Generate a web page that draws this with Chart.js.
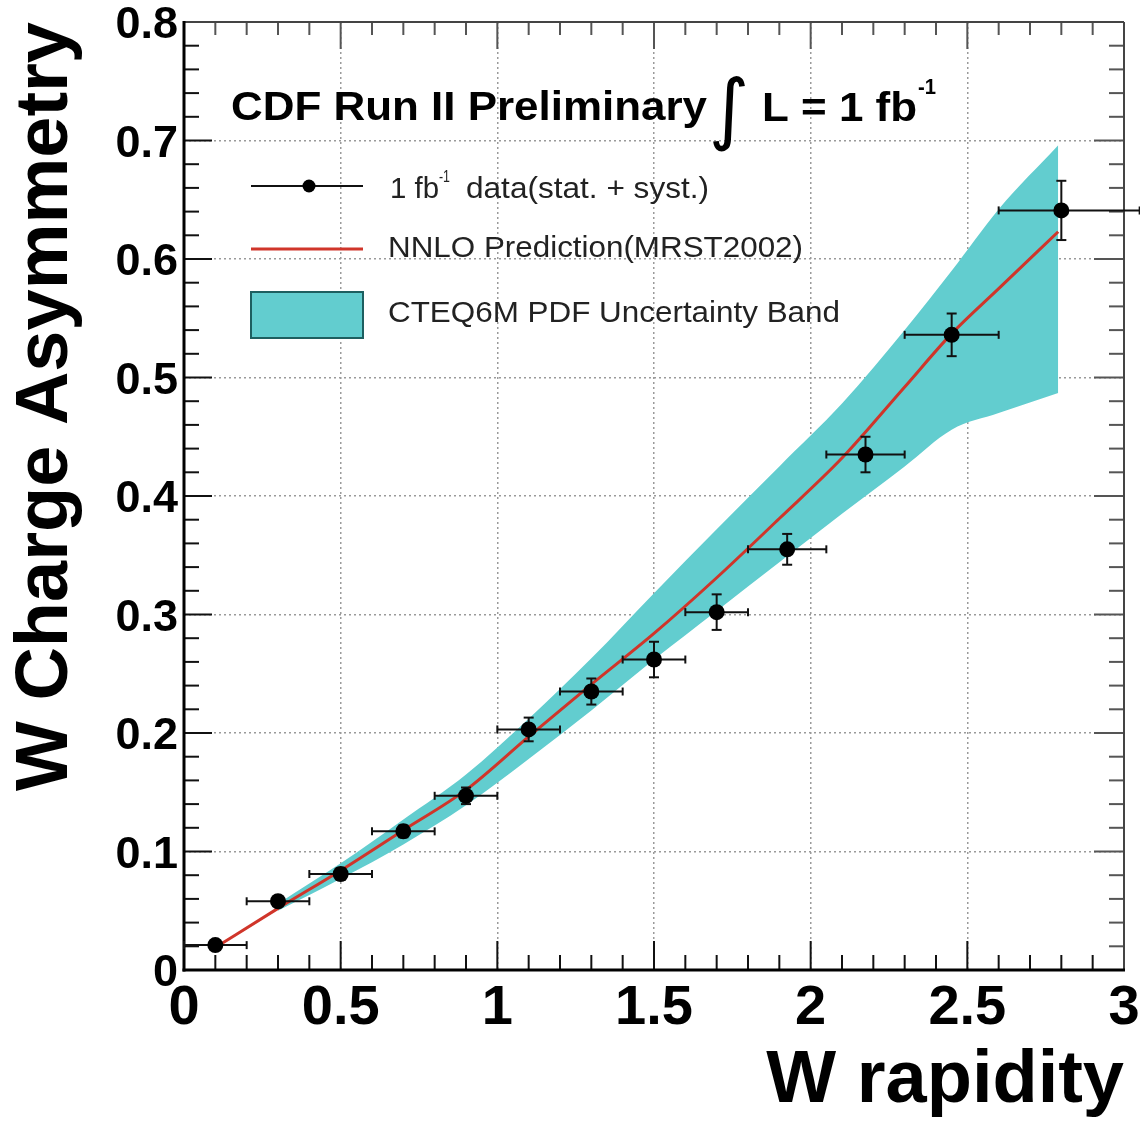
<!DOCTYPE html>
<html>
<head>
<meta charset="utf-8">
<title>W Charge Asymmetry</title>
<script src="https://cdn.jsdelivr.net/npm/chart.js@4.4.1/dist/chart.umd.min.js"></script>
<style>
  html,body{margin:0;padding:0;background:#fff;}
  #wrap{width:1140px;height:1121px;}
</style>
</head>
<body>
<div id="wrap"><canvas id="asym" width="1140" height="1121"></canvas></div>
<script>
// ===== Data =====
const xCenters = [0.1, 0.3, 0.5, 0.7, 0.9, 1.1, 1.3, 1.5, 1.7, 1.925, 2.175, 2.45, 2.8];
const asym     = [0.021, 0.058, 0.081, 0.117, 0.147, 0.203, 0.235, 0.262, 0.302, 0.355, 0.435, 0.536, 0.641];
const asymErr  = [0.004, 0.004, 0.005, 0.005, 0.007, 0.010, 0.011, 0.015, 0.015, 0.013, 0.015, 0.018, 0.025];
const binLow   = [0.0, 0.2, 0.4, 0.6, 0.8, 1.0, 1.2, 1.4, 1.6, 1.8, 2.05, 2.3, 2.6];
const binHigh  = [0.2, 0.4, 0.6, 0.8, 1.0, 1.2, 1.4, 1.6, 1.8, 2.05, 2.3, 2.6, 3.05];

// NNLO prediction (MRST2002)
const predX = [0.1, 0.3, 0.5, 0.7, 0.9, 1.1, 1.3, 1.5, 1.7, 1.9, 2.1, 2.3, 2.45, 2.6, 2.79];
const predY = [0.019, 0.052, 0.084, 0.118, 0.152, 0.197, 0.241, 0.284, 0.331, 0.381, 0.432, 0.492, 0.537, 0.575, 0.623];

// CTEQ6M PDF uncertainty band
const bandX  = [0.3, 0.5, 0.7, 0.9, 1.1, 1.3, 1.5, 1.7, 1.9, 2.1, 2.3, 2.45, 2.6, 2.79];
const bandHi = [0.056, 0.090, 0.127, 0.165, 0.212, 0.263, 0.318, 0.372, 0.425, 0.478, 0.540, 0.590, 0.642, 0.696];
const bandLo = [0.050, 0.077, 0.106, 0.139, 0.178, 0.219, 0.262, 0.303, 0.344, 0.385, 0.425, 0.456, 0.470, 0.487];

// axis ticks
const xTickVals   = [0, 0.5, 1, 1.5, 2, 2.5, 3];
const xTickLabels = ["0", "0.5", "1", "1.5", "2", "2.5", "3"];
const yTickVals   = [0, 0.1, 0.2, 0.3, 0.4, 0.5, 0.6, 0.7, 0.8];
const yTickLabels = ["0", "0.1", "0.2", "0.3", "0.4", "0.5", "0.6", "0.7", "0.8"];

const FONT = "'Liberation Sans', Arial, Helvetica, sans-serif";
const CYAN = "#62cdcf";
const RED = "#d0352a";

function pts(xs, ys){ return xs.map((x,i)=>({x, y:ys[i]})); }

function line(ctx, x0, y0, x1, y1){
  ctx.beginPath(); ctx.moveTo(x0,y0); ctx.lineTo(x1,y1); ctx.stroke();
}

// text squeezed/stretched to fit between x0 and x1
function fitText(ctx, s, x0, x1, base, font, color){
  ctx.save();
  ctx.font = font;
  ctx.fillStyle = color || "#000";
  ctx.textBaseline = "alphabetic";
  ctx.textAlign = "left";
  const w = ctx.measureText(s).width;
  ctx.translate(x0, base);
  ctx.scale((x1-x0)/w, 1);
  ctx.fillText(s, 0, 0);
  ctx.restore();
}

// ===== ROOT-like frame, ticks, error bars, legend =====
const rootStyle = {
  id: "rootStyle",
  beforeDatasetsDraw(chart){
    const {ctx, chartArea:a, scales:{x:xs, y:ys}} = chart;
    ctx.save();
    // ticks, pointing inward
    for(let k=0;k<=30;k++){
      const px = xs.getPixelForValue(k/10), major = k%5===0;
      ctx.strokeStyle = "#111"; ctx.lineWidth = 2;
      line(ctx, px, a.bottom, px, a.bottom-(major?29:15));
      ctx.strokeStyle = "#555";
      line(ctx, px, a.top, px, a.top+(major?27:13));
    }
    for(let k=0;k<=40;k++){
      const py = ys.getPixelForValue(k/50), major = k%5===0;
      ctx.strokeStyle = "#111"; ctx.lineWidth = 2;
      line(ctx, a.left, py, a.left+(major?28:15), py);
      ctx.strokeStyle = "#555";
      line(ctx, a.right, py, a.right-(major?30:15), py);
    }
    // frame
    ctx.strokeStyle = "#444"; ctx.lineWidth = 2;
    line(ctx, a.left, a.top, a.right, a.top);
    line(ctx, a.right, a.top, a.right, a.bottom);
    ctx.strokeStyle = "#000"; ctx.lineWidth = 3;
    line(ctx, a.left, a.top-1, a.left, a.bottom+1.5);
    line(ctx, a.left-1.5, a.bottom, a.right+1, a.bottom);
    ctx.restore();
  },
  beforeDatasetDraw(chart, args){
    if(args.index !== 0) return;
    const {ctx, scales:{x:xs, y:ys}} = chart;
    ctx.save();
    ctx.strokeStyle = "#111"; ctx.lineWidth = 2;
    xCenters.forEach((xc,i)=>{
      const px = xs.getPixelForValue(xc), py = ys.getPixelForValue(asym[i]);
      const x0 = xs.getPixelForValue(binLow[i]), x1 = xs.getPixelForValue(binHigh[i]);
      const y0 = ys.getPixelForValue(asym[i]-asymErr[i]), y1 = ys.getPixelForValue(asym[i]+asymErr[i]);
      line(ctx, x0, py, x1, py);
      line(ctx, px, y0, px, y1);
      line(ctx, x0, py-4, x0, py+4);
      line(ctx, x1, py-4, x1, py+4);
      line(ctx, px-5, y0, px+5, y0);
      line(ctx, px-5, y1, px+5, y1);
    });
    ctx.restore();
  },
  afterDraw(chart){
    const ctx = chart.ctx;
    // header
    fitText(ctx, "CDF Run II Preliminary", 231, 707, 120, "bold 40px "+FONT);
    ctx.save();
    ctx.font = "78px 'DejaVu Sans', sans-serif";
    ctx.fillStyle = "#000"; ctx.textAlign = "center"; ctx.textBaseline = "middle";
    ctx.fillText("\u222B", 729, 115);
    ctx.restore();
    fitText(ctx, "L = 1 fb", 762, 917, 121, "bold 40px "+FONT);
    fitText(ctx, "-1", 918, 936, 94, "bold 22px "+FONT);

    // legend: data
    ctx.save();
    ctx.strokeStyle = "#111"; ctx.lineWidth = 2;
    line(ctx, 251, 186, 363, 186);
    ctx.fillStyle = "#000";
    ctx.beginPath(); ctx.arc(309, 186, 6.5, 0, Math.PI*2); ctx.fill();
    // legend: prediction
    ctx.strokeStyle = RED; ctx.lineWidth = 3;
    line(ctx, 251, 249, 363, 249);
    // legend: band
    ctx.fillStyle = CYAN; ctx.fillRect(251, 292, 112, 46);
    ctx.strokeStyle = "#1d5f60"; ctx.lineWidth = 2;
    ctx.strokeRect(251, 292, 112, 46);
    ctx.restore();

    const lf = "29px "+FONT, col = "#222";
    fitText(ctx, "1 fb", 390, 439, 198, lf, col);
    fitText(ctx, "-1", 439, 450, 182, "17px "+FONT, col);
    fitText(ctx, "data(stat. + syst.)", 466, 709, 198, lf, col);
    fitText(ctx, "NNLO Prediction(MRST2002)", 388, 803, 257, lf, col);
    fitText(ctx, "CTEQ6M PDF Uncertainty Band", 388, 840, 322, lf, col);
  }
};

new Chart(document.getElementById("asym"), {
  type: "scatter",
  data: {
    datasets: [
      { label: "1 fb-1 data(stat. + syst.)", data: pts(xCenters, asym),
        pointRadius: 8, pointBackgroundColor: "#000", pointBorderWidth: 0, showLine: false },
      { label: "NNLO Prediction(MRST2002)", data: pts(predX, predY), showLine: true,
        borderColor: RED, borderWidth: 3, pointRadius: 0, cubicInterpolationMode: "monotone", fill: false },
      { label: "CTEQ6M PDF Uncertainty Band", data: pts(bandX, bandHi), showLine: true,
        borderWidth: 0, borderColor: CYAN, pointRadius: 0, backgroundColor: CYAN, fill: "+1",
        cubicInterpolationMode: "monotone" },
      { label: "band low", data: pts(bandX, bandLo), showLine: true,
        borderWidth: 0, borderColor: CYAN, pointRadius: 0, fill: false,
        cubicInterpolationMode: "monotone" }
    ]
  },
  options: {
    responsive: false,
    animation: false,
    devicePixelRatio: 1,
    layout: { padding: { top: 22, right: 16, left: 0, bottom: 0 } },
    plugins: { legend: { display: false }, tooltip: { enabled: false } },
    scales: {
      x: {
        type: "linear", min: 0, max: 3,
        afterFit: s => { s.height = 151; },
        afterBuildTicks: s => { s.ticks = xTickVals.map(v=>({value:v})); },
        ticks: { callback: (v,i) => xTickLabels[i], color: "#000", padding: 0,
                 maxRotation: 0, autoSkip: false,
                 font: { family: FONT, size: 56, weight: "bold", lineHeight: 1.36 } },
        grid: { color: "#9a9a9a", lineWidth: 1.5, drawTicks: false },
        border: { display: false, dash: [2, 3] },
        title: { display: true, text: "W rapidity", align: "end", color: "#000",
                 font: { family: FONT, size: 74, weight: "bold", lineHeight: 1 },
                 padding: { top: 0, bottom: 2 } }
      },
      y: {
        type: "linear", min: 0, max: 0.8,
        afterFit: s => { s.width = 184; },
        afterBuildTicks: s => { s.ticks = yTickVals.map(v=>({value:v})); },
        ticks: { callback: (v,i) => yTickLabels[i], color: "#000", padding: 6,
                 autoSkip: false, labelOffset: 4,
                 font: { family: FONT, size: 45, weight: "bold", lineHeight: 0.7 } },
        grid: { color: "#9a9a9a", lineWidth: 1.5, drawTicks: false },
        border: { display: false, dash: [2, 3] },
        title: { display: true, text: "W Charge Asymmetry", align: "end", color: "#000",
                 font: { family: FONT, size: 74, weight: "bold", lineHeight: 1 },
                 padding: { top: 10, bottom: 0 } }
      }
    }
  },
  plugins: [rootStyle]
});
</script>
</body>
</html>
